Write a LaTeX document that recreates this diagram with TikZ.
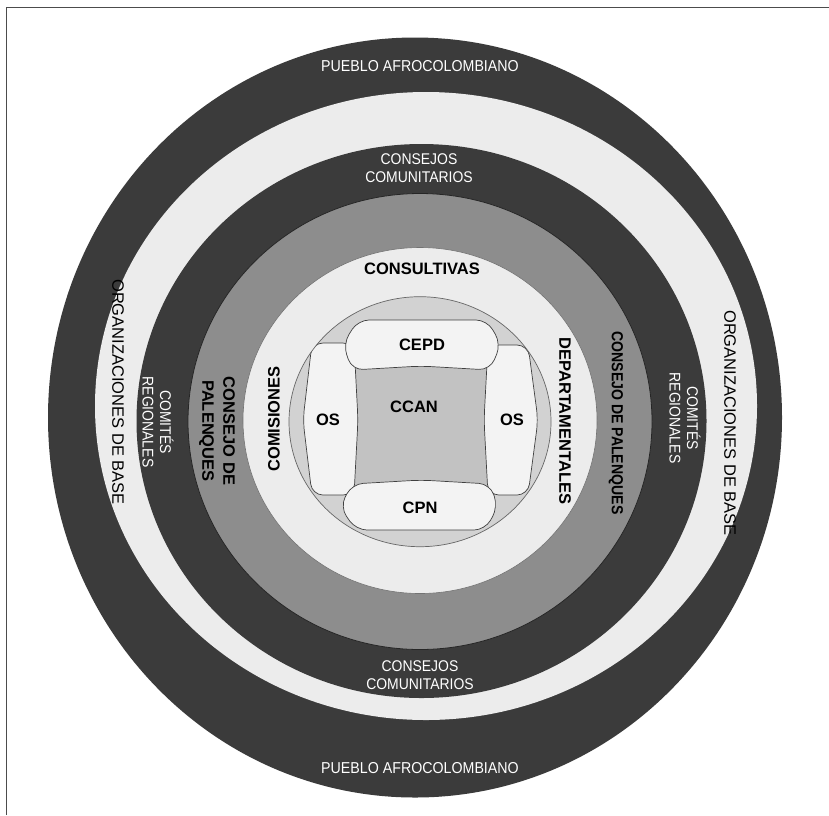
\documentclass[tikz,border=0pt]{standalone}
\usepackage{fontspec}
\setmainfont{Liberation Sans}
\newfontfamily\narrowfont[FakeStretch=0.9]{Liberation Sans}
\newfontfamily\narrowboldfont[FakeStretch=0.88]{Liberation Sans Bold}
\definecolor{darkring}{HTML}{3B3B3B}
\definecolor{midring}{HTML}{8D8D8D}
\definecolor{paleband}{HTML}{ECECEC}
\definecolor{innergray}{HTML}{D2D2D2}
\definecolor{ccangray}{HTML}{C2C2C2}
\definecolor{boxwhite}{HTML}{F3F3F3}
\begin{document}
\begin{tikzpicture}[x=1pt,y=-1pt,
  whitelbl/.style={text=white, font=\narrowfont\fontsize{15.5}{17.5}\selectfont, inner sep=0pt, align=center},
  blacklbl/.style={text=black, font=\fontsize{16.5}{21}\selectfont\bfseries, inner sep=0pt, align=center},
  narrowbold/.style={text=black, font=\narrowboldfont\fontsize{16}{20}\selectfont, inner sep=0pt},
  baselbl/.style={text=black, font=\fontsize{16.5}{20}\selectfont, inner sep=0pt},
  inbox/.style={fill=boxwhite, draw=black!75, line width=0.7pt, rounded corners=11pt},
  framestyle/.style={draw=black!70, line width=1.6pt}
]
\useasboundingbox (0,0) rectangle (829,815);
\fill[white] (0,0) rectangle (829,815);
\draw[framestyle] (6.5,815) -- (6.5,7.5) -- (829,7.5);

% concentric rings
\fill[darkring] (415,417.5) ellipse[x radius=367pt, y radius=380pt];
\fill[paleband] (426,406) ellipse[x radius=331pt, y radius=314pt];
\fill[darkring] (421.5,421) ellipse[x radius=285pt, y radius=277pt];
\filldraw[fill=midring, draw=black!85, line width=0.8pt] (420,421.5) ellipse[x radius=232pt, y radius=228pt];
\filldraw[fill=paleband, draw=black!55, line width=0.6pt] (420,420.5) ellipse[x radius=177pt, y radius=173pt];

% inner circle with the central bodies
\fill[innergray] (420,421.7) ellipse[x radius=131pt, y radius=125pt];
\begin{scope}
  \clip (420,421.7) ellipse[x radius=131pt, y radius=125pt];
  \fill[ccangray] (350,364) rectangle (492,488);
  \draw[inbox] (354,343) -- (312,343) -- (303,420) -- (312,495) -- (354,495) -- (358,420) -- cycle;
  \draw[inbox] (488,345) -- (528,345) -- (538,420) -- (528,495) -- (488,495) -- (484,420) -- cycle;
  \draw[inbox] (358,320) -- (487,320) -- (501,344) -- (490,370) -- (421,366) -- (352,370) -- (343,344) -- cycle;
  \draw[inbox] (352,484) -- (421,480) -- (490,484) -- (498,507) -- (485,530) -- (356,530) -- (340,507) -- cycle;
\end{scope}
\draw[black!60, line width=0.7pt] (420,421.7) ellipse[x radius=131pt, y radius=125pt];

% labels
\node[whitelbl, font=\narrowfont\fontsize{15.8}{17.5}\selectfont] (pa1) at (420,66) {PUEBLO AFROCOLOMBIANO};
\node[whitelbl, font=\narrowfont\fontsize{15.8}{17.5}\selectfont] (pa2) at (420,768) {PUEBLO AFROCOLOMBIANO};
\node[whitelbl] (cc1) at (419,168) {CONSEJOS\\COMUNITARIOS};
\node[whitelbl] (cc2) at (420,675) {CONSEJOS\\COMUNITARIOS};
\node[whitelbl, rotate=-90] (comL) at (158,422) {COMITÉS\\REGIONALES};
\node[whitelbl, rotate=-90] (comR) at (685,418) {COMITÉS\\REGIONALES};
\node[baselbl, rotate=-90] (orgL) at (118,392) {ORGANIZACIONES DE BASE};
\node[baselbl, rotate=-90] (orgR) at (730,423) {ORGANIZACIONES DE BASE};
\node[blacklbl, rotate=-90] (palL) at (217,431) {CONSEJO DE\\PALENQUES};
\node[narrowbold, rotate=-90] (palR) at (616,423) {CONSEJO DE PALENQUES};
\node[blacklbl] (consul) at (422,269) {CONSULTIVAS};
\node[blacklbl, rotate=90] (comis) at (274,419) {COMISIONES};
\node[blacklbl, rotate=-90] (depto) at (565,421) {DEPARTAMENTALES};
\node[blacklbl] (cepd) at (422,345) {CEPD};
\node[blacklbl] (ccan) at (414,407) {CCAN};
\node[blacklbl] (osl) at (328,420) {OS};
\node[blacklbl] (osr) at (512,420) {OS};
\node[blacklbl] (cpn) at (420,508) {CPN};
\end{tikzpicture}
\end{document}
